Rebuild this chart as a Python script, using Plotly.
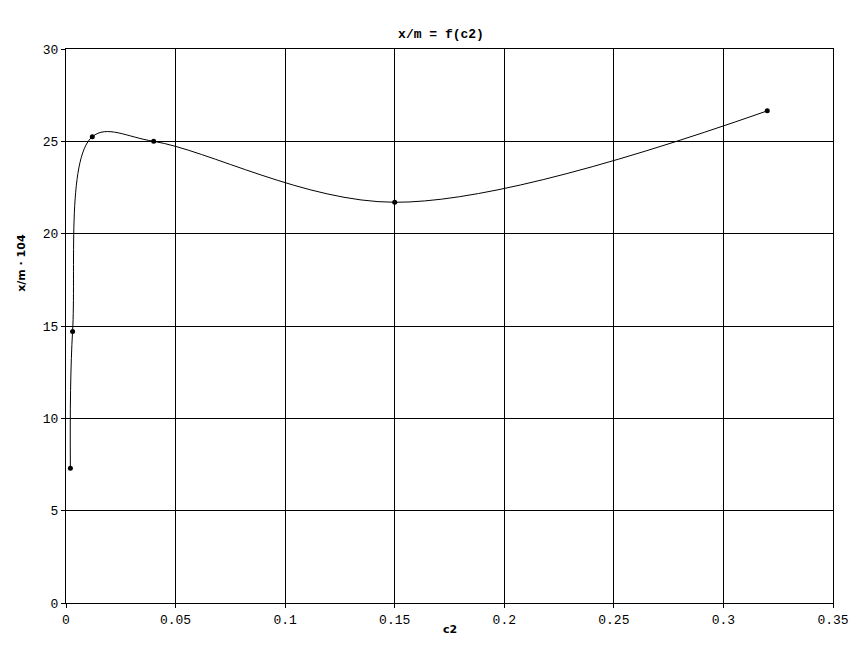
import plotly.graph_objects as go

c2 = [0.002, 0.003, 0.012, 0.04, 0.15, 0.32]
xm = [7.3, 14.7, 25.25, 25.0, 21.7, 26.65]

x_ticks = [0, 0.05, 0.1, 0.15, 0.2, 0.25, 0.3, 0.35]
x_tick_labels = ["0", "0.05", "0.1", "0.15", "0.2", "0.25", "0.3", "0.35"]
y_ticks = [0, 5, 10, 15, 20, 25, 30]

fig = go.Figure()
fig.add_trace(go.Scatter(
    x=c2, y=xm, mode="lines+markers",
    line=dict(color="black", width=1, shape="spline", smoothing=1.0),
    marker=dict(color="black", size=5, symbol="circle"),
    showlegend=False,
))

mono = "Liberation Mono, DejaVu Sans Mono, monospace"
sans_b = "DejaVu Sans, Arial, sans-serif"
# the page body has an 8px margin, so the figure is drawn 8px in from the corner
W, H = 850, 653
fig.update_layout(
    width=W, height=H,
    margin=dict(l=58, r=25, t=41, b=58, autoexpand=False),
    paper_bgcolor="white", plot_bgcolor="white",
    title=dict(text="<b>x/m = f(c2)</b>", x=433 / W, xanchor="center",
               y=1 - 25 / H, yanchor="middle", automargin=False,
               font=dict(family=mono, size=13, color="black")),
    xaxis=dict(range=[0, 0.35], tickvals=x_ticks, ticktext=x_tick_labels,
               automargin=False,
               showgrid=True, gridcolor="black", gridwidth=1,
               showline=True, linecolor="black", linewidth=1, mirror=True,
               ticks="outside", ticklen=4, tickcolor="black",
               zeroline=False,
               tickfont=dict(family=mono, size=13, color="black")),
    yaxis=dict(range=[0, 30], tickvals=y_ticks,
               automargin=False,
               showgrid=True, gridcolor="black", gridwidth=1,
               showline=True, linecolor="black", linewidth=1, mirror=True,
               ticks="outside", ticklen=4, tickcolor="black",
               zeroline=False,
               tickfont=dict(family=mono, size=13, color="black")),
    annotations=[
        dict(text="<b>c2</b>", xref="paper", yref="paper", x=0.5, y=-0.0487,
             xanchor="center", yanchor="middle", showarrow=False,
             font=dict(family=sans_b, size=11, color="black")),
        dict(text="<b>x/m \u00b7 104</b>", xref="paper", yref="paper",
             x=-0.0574, y=0.614, textangle=-90,
             xanchor="center", yanchor="middle", showarrow=False,
             font=dict(family=sans_b, size=11, color="black")),
    ],
)

fig.write_html("out.html")
